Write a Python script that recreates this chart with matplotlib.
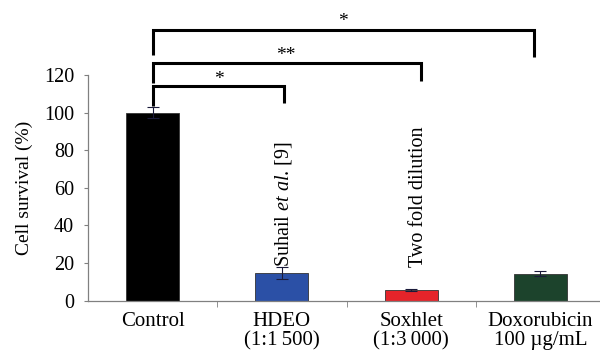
import matplotlib
matplotlib.use("Agg")
import matplotlib.pyplot as plt

categories = ["Control", "HDEO\n(1:1\u2009500)", "Soxhlet\n(1:3\u2009000)", "Doxorubicin\n100 \u00b5g/mL"]
values = [100, 14.8, 5.6, 14.3]
errors = [3.0, 3.2, 0.3, 1.5]
colors = ["#000000", "#2B50A6", "#E5242A", "#1C432C"]
yticks = [0, 20, 40, 60, 80, 100, 120]

# brackets: (x_right, y_top, y_left_bottom, y_right_bottom, label, star_x, star_y)
brackets = [
    (1.02, 114.2, 103.5, 105.0, "*", 0.51, 113.3),
    (2.08, 126.4, 116.0, 116.8, "**", 1.03, 125.8),
    (2.95, 144.0, 130.6, 129.6, "*", 1.47, 143.8),
]
notes = [(1.01, "Suhail $\\mathit{et}$ $\\mathit{al}$. [9]"), (2.06, "Two fold dilution")]

plt.rcParams["font.family"] = ["Liberation Serif", "DejaVu Serif"]
plt.rcParams["mathtext.fontset"] = "custom"
plt.rcParams["mathtext.rm"] = "Liberation Serif"
plt.rcParams["mathtext.it"] = "Liberation Serif:italic"

fig = plt.figure(figsize=(6, 3.5), dpi=100)
ax = fig.add_axes([88/600, 49.5/350, 517/600, 225.5/350])

x = list(range(len(categories)))
ax.bar(x, values, width=0.41, color=colors, edgecolor="#333333", linewidth=0.6, zorder=2)
ax.errorbar(x, values, yerr=errors, fmt="none", ecolor="#1a1a3a", elinewidth=0.8, capsize=4, capthick=0.8, zorder=3)

ax.set_xlim(-0.5, 3.5)
ax.set_ylim(0, 120)
ax.set_yticks(yticks)
ax.set_xticks(x)
ax.set_xticklabels(categories, fontsize=15, linespacing=1.05)
ax.set_xticks([0.5, 1.5, 2.5], minor=True)
ax.tick_params(axis="x", which="major", length=0, pad=8)
ax.tick_params(axis="x", which="minor", length=4, direction="out", color="#808080")
ax.tick_params(axis="y", length=3, direction="out", color="#808080", labelsize=14.5, pad=7)
for s in ["top", "right"]:
    ax.spines[s].set_visible(False)
for s in ["left", "bottom"]:
    ax.spines[s].set_color("#808080")
    ax.spines[s].set_linewidth(0.9)
ax.set_ylabel("Cell survival (%)", fontsize=14, labelpad=8)

for xr, yt, ylb, yrb, lab, sx, sy in brackets:
    ax.plot([0, 0, xr, xr], [ylb, yt, yt, yrb], color="black", linewidth=2.2,
            solid_joinstyle="miter", solid_capstyle="butt", clip_on=False, zorder=4)
    ax.text(sx, sy, lab, ha="center", va="bottom", fontsize=14, clip_on=False)

for nx, txt in notes:
    ax.text(nx, 18, txt, rotation=90, ha="center", va="bottom", fontsize=14.5)

fig.savefig("out.png", dpi=100)
